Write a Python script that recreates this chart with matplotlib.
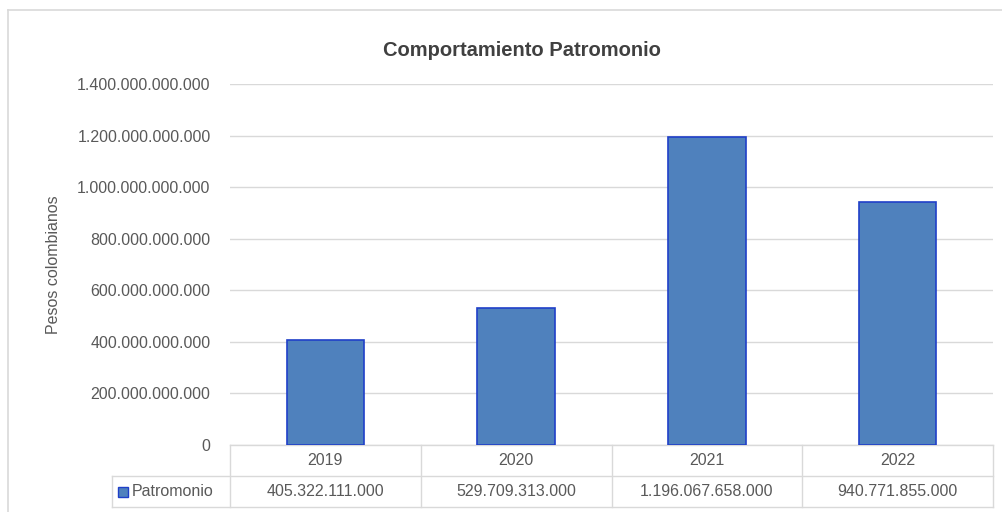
import matplotlib
matplotlib.use("Agg")
import matplotlib.pyplot as plt
from matplotlib.patches import Rectangle
from matplotlib.lines import Line2D
from matplotlib.transforms import blended_transform_factory
from matplotlib.ticker import FuncFormatter

years = ["2019", "2020", "2021", "2022"]
patrimonio = [405322111000, 529709313000, 1196067658000, 940771855000]
series_name = "Patromonio"
title = "Comportamiento Patromonio"
y_label = "Pesos colombianos"
y_ticks = [0, 200e9, 400e9, 600e9, 800e9, 1000e9, 1200e9, 1400e9]

FONT = ["Liberation Sans Narrow", "Liberation Sans", "DejaVu Sans"]
plt.rcParams["font.family"] = FONT
TXT = "#595959"
BAR = "#4F81BD"
EDGE = "#1F3FC8"
GRID = "#D9D9D9"


def fmt(v):
    return f"{int(round(v)):,}".replace(",", ".")


W, H = 1002, 512
fig = plt.figure(figsize=(W / 100, H / 100), dpi=100)

L, R, T, B = 230, 993, 84, 445
ax = fig.add_axes([L / W, 1 - B / H, (R - L) / W, (B - T) / H])

x = list(range(len(years)))
ax.bar(x, patrimonio, width=0.405, color=BAR, edgecolor=EDGE, linewidth=1.2, zorder=3)
ax.set_xlim(-0.5, len(years) - 0.5)
ax.set_ylim(0, 1400e9)
ax.set_yticks(y_ticks)
ax.yaxis.set_major_formatter(FuncFormatter(lambda v, p: fmt(v)))
ax.tick_params(axis="y", length=0, pad=14, labelsize=11.5, labelcolor=TXT)
ax.set_xticks([])
for s in ax.spines.values():
    s.set_visible(False)
ax.grid(axis="y", color=GRID, linewidth=1.0, zorder=0)
ax.set_axisbelow(True)
ax.set_ylabel(y_label, fontsize=11.5, color=TXT)
ax.yaxis.set_label_coords((61 - L) / (R - L), 0.5)

# data table below the axes
tr = blended_transform_factory(ax.transData, ax.transAxes)
row_h = 31 / (B - T)
cat_px = (R - L) / len(years)
label_left = -0.5 - (L - 112) / cat_px
tl = dict(color=GRID, linewidth=1.0, transform=tr, clip_on=False)
# horizontal lines
ax.add_line(Line2D([-0.5, len(years) - 0.5], [0, 0], **tl))
ax.add_line(Line2D([label_left, len(years) - 0.5], [-row_h, -row_h], **tl))
ax.add_line(Line2D([label_left, len(years) - 0.5], [-2 * row_h, -2 * row_h], **tl))
# vertical lines
for i in range(len(years) + 1):
    ax.add_line(Line2D([i - 0.5, i - 0.5], [0, -2 * row_h], **tl))
ax.add_line(Line2D([label_left, label_left], [-row_h, -2 * row_h], **tl))

for i, (yr, v) in enumerate(zip(years, patrimonio)):
    ax.text(i, -0.5 * row_h, yr, transform=tr, ha="center", va="center",
            fontsize=11.5, color=TXT)
    ax.text(i, -1.5 * row_h, fmt(v), transform=tr, ha="center", va="center",
            fontsize=11.5, color=TXT)

# legend key in table
key_w = 10 / cat_px
ax.add_patch(Rectangle((label_left + 6 / cat_px, -1.5 * row_h - 5 / (B - T)), key_w,
                       10 / (B - T), transform=tr, clip_on=False,
                       facecolor=BAR, edgecolor=EDGE, linewidth=1.0))
ax.text(label_left + 20 / cat_px, -1.5 * row_h, series_name, transform=tr,
        ha="left", va="center", fontsize=11.5, color=TXT)

# title
fig.text(522 / W, 1 - 50 / H, title, ha="center", va="center", fontsize=14.5,
         fontweight="bold", color="#404040")

# outer chart border (top and left)
fig.add_artist(Line2D([8 / W, 1.0], [1 - 10 / H, 1 - 10 / H], color=GRID,
                      linewidth=1.2, transform=fig.transFigure))
fig.add_artist(Line2D([8 / W, 8 / W], [0, 1 - 10 / H], color=GRID,
                      linewidth=1.2, transform=fig.transFigure))

fig.savefig("out.png", dpi=100)
